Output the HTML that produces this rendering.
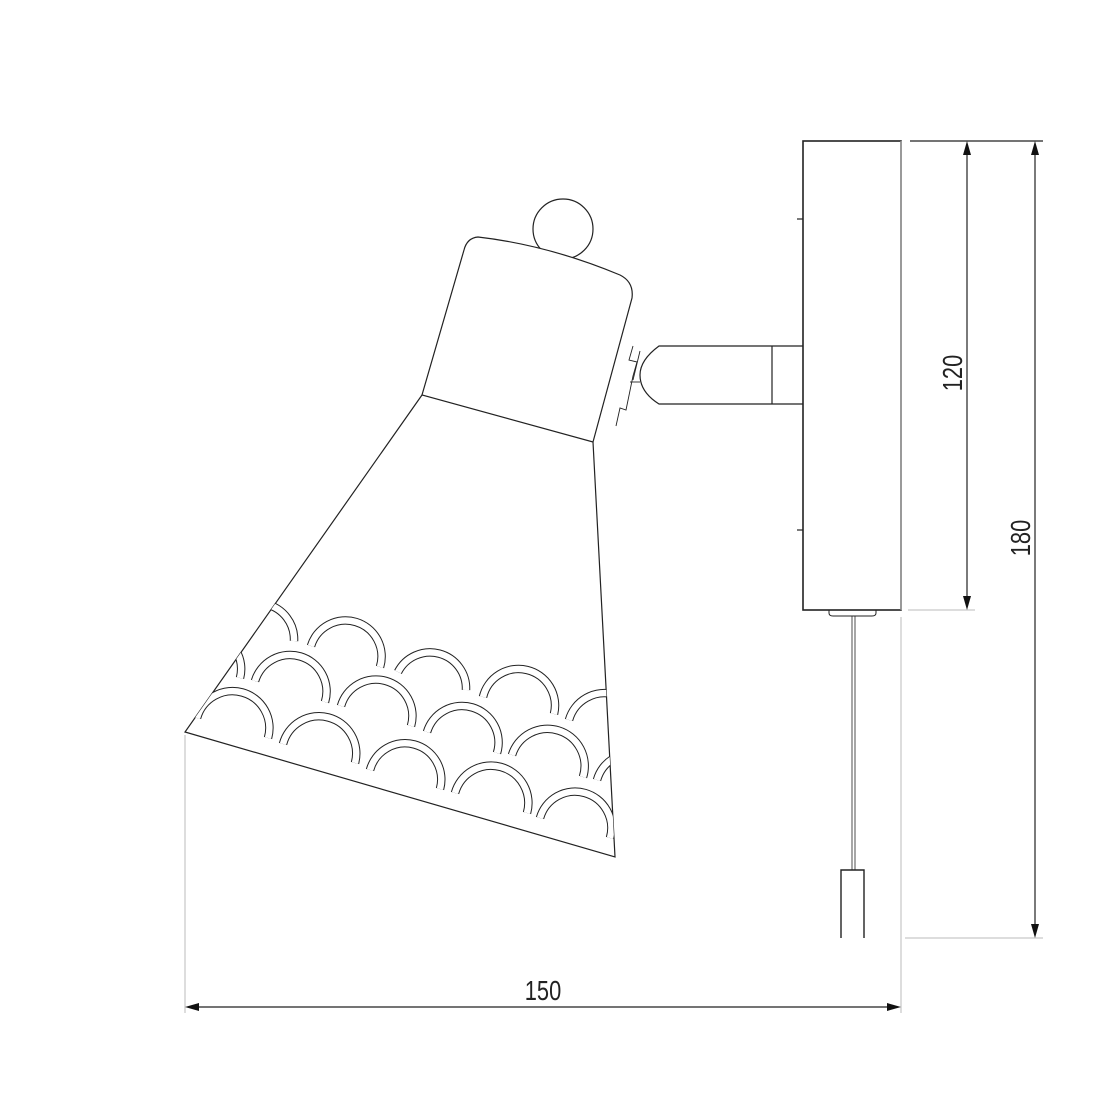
<!DOCTYPE html>
<html><head><style>html,body{margin:0;padding:0;background:#fff}svg{display:block}text{font-family:"Liberation Sans",sans-serif;fill:#222}</style></head>
<body>
<svg width="1100" height="1100" viewBox="0 0 1100 1100" xmlns="http://www.w3.org/2000/svg" xmlns:xlink="http://www.w3.org/1999/xlink">
<defs>
<clipPath id="cone"><polygon points="422,395 593,442 615,857 185,732"/></clipPath>
<g id="arcs">
<path d="M311,646 A36,36 0 0 1 380,667"/><path d="M398,672 A36,36 0 0 1 466,690"/><path d="M483,697 A36,36 0 0 1 554,714"/><path d="M569,720 A36,36 0 0 1 640,740"/>
<path d="M225,625 A36,36 0 0 1 294,641"/>
<path d="M255,681 A36,36 0 0 1 325,702"/><path d="M341,706 A36,36 0 0 1 411,726"/><path d="M427,732 A36,36 0 0 1 497,753"/><path d="M512,755 A36,36 0 0 1 583,777"/><path d="M597,780 A36,36 0 0 1 668,800"/>
<path d="M170,660 A36,36 0 0 1 240,678"/>
<path d="M197,718 A36,36 0 0 1 268,738"/><path d="M283,744 A36,36 0 0 1 355,763"/><path d="M370,770 A36,36 0 0 1 440,789"/><path d="M455,793 A36,36 0 0 1 527,813"/><path d="M540,818 A36,36 0 0 1 610,838"/>
</g>
</defs>
<g fill="none" stroke="#222" stroke-width="1.2">
<rect x="803" y="141" width="98" height="469" stroke-width="1.6"/>
<line x1="797" y1="219" x2="803" y2="219"/>
<line x1="797" y1="530" x2="803" y2="530"/>
<path d="M829,610 v3 q0,3 4,3 h39 q4,0 4,-3 v-3" stroke-width="1"/>
<line x1="852" y1="616" x2="852" y2="870" stroke-width="0.8"/>
<line x1="855" y1="616" x2="855" y2="870" stroke-width="0.8"/>
<path d="M841,938 V870 H864 V938" stroke-width="1.4"/>
<path d="M803,346 H659 Q640,360 640,375 Q640,392 659,404 H803"/>
<line x1="772" y1="346" x2="772" y2="404"/>
<path d="M633,346 l-4,14 8,2 -4,14 -7,34 -6,-2 -4,18" stroke-width="0.9"/>
<line x1="640" y1="351" x2="633" y2="380" stroke-width="0.9"/>
<line x1="630" y1="382" x2="640" y2="382" stroke-width="0.9"/>
<circle cx="563" cy="229" r="30" fill="#fff"/>
<path d="M478,237 Q548,245 620,275 Q634,282 632,298 L593,442 L422,395 L464,250 Q467,238 478,237 Z" fill="#fff"/>
<path d="M422,395 L185,732 L615,857 L593,442"/>
</g>
<g clip-path="url(#cone)" fill="none">
<use href="#arcs" xlink:href="#arcs" stroke="#222" stroke-width="8.5"/>
<use href="#arcs" xlink:href="#arcs" stroke="#fff" stroke-width="6.5"/>
</g>
<g stroke="#bbb" stroke-width="1">
<line x1="185" y1="735" x2="185" y2="1013"/>
<line x1="901" y1="617" x2="901" y2="1013"/>
<line x1="901" y1="141" x2="901" y2="610"/>
<line x1="905" y1="938" x2="1043" y2="938"/>
<line x1="908" y1="610" x2="975" y2="610"/>
</g>
<g stroke="#222" stroke-width="1.2">
<line x1="910" y1="141" x2="1043" y2="141"/>
<line x1="967" y1="150" x2="967" y2="600"/>
<line x1="1035" y1="150" x2="1035" y2="928"/>
<line x1="195" y1="1007" x2="891" y2="1007"/>
</g>
<g fill="#111">
<polygon points="967,141 963,155 971,155"/><polygon points="967,610 963,596 971,596"/>
<polygon points="1035,141 1031,155 1039,155"/><polygon points="1035,938 1031,924 1039,924"/>
<polygon points="185,1007 199,1003 199,1011"/><polygon points="901,1007 887,1003 887,1011"/>
</g>
<text x="0" y="0" font-size="28" text-anchor="middle" transform="translate(543,1000) scale(0.78,1)">150</text>
<text x="0" y="0" font-size="28" text-anchor="middle" transform="translate(962,373) rotate(-90) scale(0.78,1)">120</text>
<text x="0" y="0" font-size="28" text-anchor="middle" transform="translate(1030,538) rotate(-90) scale(0.78,1)">180</text>
</svg>
</body></html>
